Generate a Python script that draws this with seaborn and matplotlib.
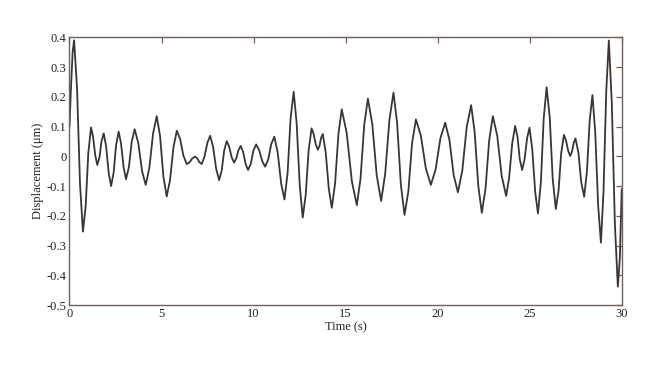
import matplotlib
matplotlib.use("Agg")
import matplotlib.pyplot as plt
import seaborn as sns
import pandas as pd

# points (each row: extremum + two points on the way down/up)
time_s = [
    0.00, 0.08, 0.17,
    0.25, 0.41, 0.57,
    0.73, 0.88, 1.02,
    1.17, 1.28, 1.40,
    1.51, 1.63, 1.74,
    1.86, 1.99, 2.13,
    2.26, 2.40, 2.53,
    2.67, 2.80, 2.94,
    3.07, 3.23, 3.38,
    3.54, 3.74, 3.94,
    4.14, 4.34, 4.54,
    4.74, 4.92, 5.10,
    5.28, 5.46, 5.65,
    5.83, 6.01, 6.19,
    6.37, 6.52, 6.67,
    6.82, 6.94, 7.06,
    7.18, 7.33, 7.49,
    7.64, 7.80, 7.97,
    8.13, 8.27, 8.40,
    8.54, 8.67, 8.81,
    8.94, 9.06, 9.18,
    9.30, 9.43, 9.57,
    9.70, 9.85, 9.99,
    10.14, 10.30, 10.47,
    10.63, 10.80, 10.96,
    11.13, 11.31, 11.50,
    11.68, 11.85, 12.01,
    12.18, 12.34, 12.51,
    12.67, 12.83, 12.99,
    13.15, 13.26, 13.38,
    13.49, 13.58, 13.67,
    13.76, 13.92, 14.09,
    14.25, 14.43, 14.61,
    14.79, 15.06, 15.34,
    15.61, 15.81, 16.01,
    16.21, 16.45, 16.69,
    16.93, 17.15, 17.38,
    17.60, 17.80, 18.00,
    18.20, 18.41, 18.61,
    18.82, 19.09, 19.36,
    19.63, 19.89, 20.15,
    20.41, 20.64, 20.87,
    21.10, 21.34, 21.58,
    21.82, 22.01, 22.21,
    22.40, 22.60, 22.80,
    23.00, 23.24, 23.48,
    23.72, 23.88, 24.05,
    24.21, 24.34, 24.46,
    24.59, 24.72, 24.86,
    24.99, 25.14, 25.30,
    25.45, 25.61, 25.76,
    25.92, 26.09, 26.25,
    26.42, 26.57, 26.71,
    26.86, 26.97, 27.09,
    27.20, 27.30, 27.39,
    27.49, 27.65, 27.80,
    27.96, 28.11, 28.26,
    28.41, 28.56, 28.72,
    28.87, 29.01, 29.16,
    29.30, 29.46, 29.63,
    29.79, 29.90, 30.00,
]
displacement = [
    0.10, 0.23, 0.35,
    0.39, 0.229, -0.092,
    -0.253, -0.166, 0.010,
    0.097, 0.066, 0.003,
    -0.029, -0.003, 0.051,
    0.077, 0.033, -0.056,
    -0.10, -0.054, 0.037,
    0.083, 0.043, -0.037,
    -0.077, -0.035, 0.049,
    0.091, 0.044, -0.049,
    -0.096, -0.038, 0.077,
    0.135, 0.068, -0.068,
    -0.135, -0.080, 0.031,
    0.086, 0.058, 0.002,
    -0.026, -0.020, -0.007,
    -0.001, -0.007, -0.020,
    -0.026, -0.002, 0.045,
    0.069, 0.032, -0.043,
    -0.080, -0.047, 0.018,
    0.051, 0.033, -0.003,
    -0.021, -0.007, 0.021,
    0.035, 0.015, -0.026,
    -0.046, -0.025, 0.019,
    0.040, 0.021, -0.016,
    -0.035, -0.010, 0.041,
    0.066, 0.013, -0.092,
    -0.145, -0.055, 0.127,
    0.217, 0.111, -0.100,
    -0.206, -0.131, 0.019,
    0.094, 0.076, 0.040,
    0.022, 0.035, 0.062,
    0.075, 0.013, -0.111,
    -0.173, -0.090, 0.075,
    0.158, 0.078, -0.084,
    -0.164, -0.075, 0.105,
    0.194, 0.108, -0.064,
    -0.150, -0.059, 0.123,
    0.214, 0.111, -0.094,
    -0.197, -0.117, 0.044,
    0.124, 0.069, -0.041,
    -0.096, -0.044, 0.061,
    0.113, 0.055, -0.063,
    -0.121, -0.048, 0.099,
    0.172, 0.082, -0.100,
    -0.190, -0.109, 0.054,
    0.135, 0.068, -0.066,
    -0.133, -0.074, 0.043,
    0.102, 0.065, -0.009,
    -0.046, -0.011, 0.061,
    0.096, 0.024, -0.120,
    -0.192, -0.086, 0.126,
    0.232, 0.130, -0.075,
    -0.177, -0.115, 0.010,
    0.072, 0.054, 0.019,
    0.001, 0.016, 0.045,
    0.060, 0.011, -0.087,
    -0.136, -0.051, 0.121,
    0.206, 0.082, -0.166,
    -0.290, -0.120, 0.219,
    0.389, 0.182, -0.231,
    -0.438, -0.34, -0.11,
]

x_ticks = [0, 5, 10, 15, 20, 25, 30]
y_ticks = [0.4, 0.3, 0.2, 0.1, 0, -0.1, -0.2, -0.3, -0.4, -0.5]
y_labels = ["0.4", "0.3", "0.2", "0.1", "0", "-0.1", "-0.2", "-0.3", "-0.4", "-0.5"]

df = pd.DataFrame({"t": time_s, "d": displacement})

sns.set_style("white")
plt.rcParams["font.family"] = ["Liberation Serif", "DejaVu Serif"]

spine_col = "#6e625d"

fig = plt.figure(figsize=(6.6, 3.68), dpi=100)
ax = fig.add_axes([0.1053, 0.171, 0.8367, 0.7276])

sns.lineplot(data=df, x="t", y="d", color="#3b3535", linewidth=1.3, ax=ax)
ax.lines[0].set_solid_joinstyle("round")

ax.set_xlim(0, 30)
ax.set_ylim(-0.5, 0.4)
ax.set_xticks(x_ticks)
ax.set_xticklabels([str(v) for v in x_ticks])
ax.set_yticks(y_ticks)
ax.set_yticklabels(y_labels)

ax.tick_params(direction="in", length=4, width=0.9, color=spine_col,
               top=True, right=True, labelsize=9, labelcolor="#222222", pad=2)
for s in ax.spines.values():
    s.set_color(spine_col)
    s.set_linewidth(1.0)

ax.set_xlabel("Time (s)", fontsize=9, color="#222222", labelpad=1)
ax.set_ylabel("Displacement (μm)", fontsize=9, color="#222222", labelpad=2)

fig.savefig("out.png", dpi=100, facecolor="white")
